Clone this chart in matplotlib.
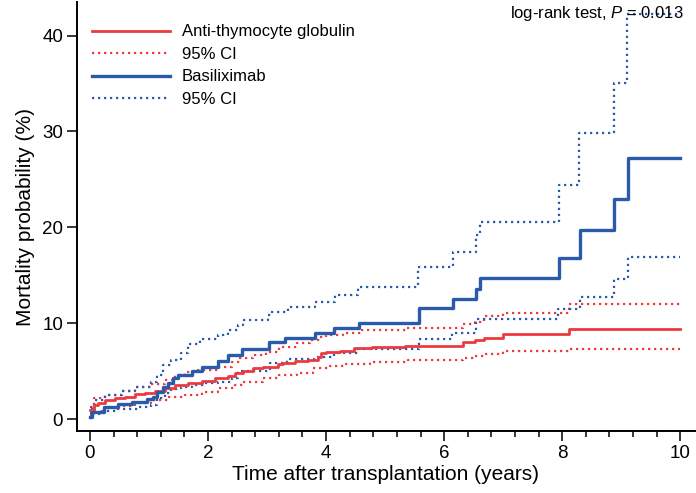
import matplotlib
matplotlib.use("Agg")
import matplotlib.pyplot as plt
from matplotlib.ticker import MultipleLocator

plt.rcParams['font.family'] = ['Liberation Sans', 'DejaVu Sans']
plt.rcParams['mathtext.fontset'] = 'custom'
plt.rcParams['mathtext.rm'] = 'Liberation Sans'
plt.rcParams['mathtext.it'] = 'Liberation Sans:italic'

# ---- data (years, mortality %) ----
atg_t = [0, 0.06, 0.14, 0.25, 0.42, 0.59, 0.76, 0.93, 1.10, 1.27, 1.44, 1.66, 1.89, 2.12, 2.34,
         2.45, 2.59, 2.76, 2.93, 3.19, 3.27, 3.47, 3.69, 3.86, 3.92, 4.00, 4.23, 4.48, 4.77,
         5.33, 6.32, 6.53, 6.67, 6.99, 8.12, 10]
atg_v = [0.95, 1.46, 1.64, 1.98, 2.16, 2.3, 2.58, 2.75, 2.96, 3.27, 3.55, 3.8, 4.0, 4.25, 4.45,
         4.77, 5.0, 5.3, 5.47, 5.74, 5.88, 6.0, 6.16, 6.5, 6.86, 7.03, 7.1, 7.38, 7.48,
         7.65, 8.0, 8.25, 8.49, 8.87, 9.39, 9.39]

atg_up_t = [0, 0.06, 0.25, 0.54, 0.76, 1.04, 1.27, 1.44, 1.61, 1.83, 2.17, 2.40, 2.54, 2.76,
            2.99, 3.21, 3.50, 3.72, 3.89, 4.00, 4.29, 4.60, 5.36, 6.32, 6.53, 6.67, 6.99, 8.12, 10]
atg_up_v = [1.28, 2.16, 2.5, 2.96, 3.3, 3.65, 4.07, 4.6, 4.94, 5.1, 5.46, 5.98, 6.33, 6.68,
            7.03, 7.55, 7.9, 8.25, 8.6, 8.77, 8.94, 9.29, 9.53, 9.9, 10.16, 10.7, 11.1, 11.97, 11.97]

atg_lo_t = [0, 0.03, 0.25, 0.48, 0.76, 1.04, 1.32, 1.61, 1.89, 2.17, 2.45, 2.59, 2.93, 3.21,
            3.50, 3.78, 4.06, 4.34, 4.74, 5.39, 6.32, 6.53, 6.67, 6.99, 8.12, 10]
atg_lo_v = [0.42, 0.76, 1.1, 1.36, 1.64, 1.98, 2.26, 2.5, 2.85, 3.2, 3.5, 3.9, 4.25, 4.6,
            4.84, 5.3, 5.53, 5.74, 5.98, 6.2, 6.33, 6.58, 6.78, 7.1, 7.3, 7.3]

bas_t = [0, 0.03, 0.23, 0.48, 0.71, 0.96, 1.07, 1.13, 1.24, 1.32, 1.41, 1.49, 1.72, 1.89, 2.17,
         2.34, 2.57, 3.03, 3.30, 3.82, 4.13, 4.55, 5.57, 6.15, 6.54, 6.61, 7.94, 8.30, 8.87, 9.11, 10]
bas_v = [0.24, 0.76, 1.28, 1.57, 1.81, 2.05, 2.33, 2.85, 3.31, 3.79, 4.25, 4.59, 5.04, 5.46, 6.0,
         6.7, 7.35, 8.07, 8.5, 9.0, 9.53, 10.05, 11.55, 12.5, 13.6, 14.7, 16.8, 19.7, 22.96, 27.2, 27.2]

bas_up_t = [0, 0.03, 0.085, 0.25, 0.54, 0.76, 1.04, 1.13, 1.24, 1.38, 1.55, 1.66, 1.86, 2.17,
            2.34, 2.51, 2.59, 3.02, 3.07, 3.35, 3.81, 4.15, 4.54, 5.56, 6.15, 6.54, 6.61, 7.94,
            8.29, 8.87, 9.10, 10]
bas_up_v = [0.6, 1.3, 2.0, 2.5, 2.96, 3.3, 3.9, 4.6, 5.64, 6.16, 6.86, 7.8, 8.3, 8.77,
            9.29, 9.8, 10.33, 10.86, 11.2, 11.7, 12.25, 12.94, 13.8, 15.9, 17.4, 19.2, 20.6, 24.4,
            29.8, 35.0, 42.3, 42.3]

bas_lo_t = [0, 0.03, 0.20, 0.48, 0.82, 1.04, 1.13, 1.27, 1.38, 1.55, 1.72, 1.95, 2.17, 2.40,
            2.50, 3.05, 3.33, 3.82, 4.13, 4.54, 5.58, 6.13, 6.54, 7.93, 8.30, 8.87, 9.11, 10]
bas_lo_v = [0.1, 0.5, 0.83, 1.04, 1.22, 1.46, 2.16, 2.68, 3.1, 3.38, 3.55, 3.72, 3.9, 4.3,
            5.0, 5.8, 6.23, 6.5, 6.86, 7.3, 8.3, 9.0, 10.4, 11.45, 12.77, 14.6, 16.9, 16.9]

labels = ["Anti-thymocyte globulin", "95% CI", "Basiliximab", "95% CI"]
x_ticks = [0, 2, 4, 6, 8, 10]
y_ticks = [0, 10, 20, 30, 40]

RED = "#EC3A3F"
BLUE = "#2A5BAA"
DOT = (0, (1.0, 1.7))

fig = plt.figure(figsize=(6.96, 4.93), dpi=100)
ax = fig.add_axes([77 / 696, 62 / 493, 618 / 696, 429 / 493])

ax.step(atg_t, atg_v, where='post', color=RED, lw=2.0, label=labels[0], zorder=4)
ax.step(atg_up_t, atg_up_v, where='post', color=RED, lw=1.6, ls=DOT, label=labels[1], zorder=3)
ax.step(atg_lo_t, atg_lo_v, where='post', color=RED, lw=1.6, ls=DOT, zorder=3)
ax.step(bas_t, bas_v, where='post', color=BLUE, lw=2.4, label=labels[2], zorder=4)
ax.step(bas_up_t, bas_up_v, where='post', color=BLUE, lw=1.6, ls=DOT, label=labels[3], zorder=3)
ax.step(bas_lo_t, bas_lo_v, where='post', color=BLUE, lw=1.6, ls=DOT, zorder=3)

ax.set_xlim(-0.22, 10.25)
ax.set_ylim(-1.25, 43.5)
ax.set_xticks(x_ticks)
ax.set_yticks(y_ticks)
ax.xaxis.set_minor_locator(MultipleLocator(0.4))
ax.tick_params(axis='both', which='major', direction='out', length=7, width=1.1,
               labelsize=13.5, pad=3)
ax.tick_params(axis='x', which='minor', direction='out', length=4, width=1.1)
for s in ['top', 'right']:
    ax.spines[s].set_visible(False)
for s in ['left', 'bottom']:
    ax.spines[s].set_linewidth(1.4)

ax.set_xlabel("Time after transplantation (years)", fontsize=15, labelpad=2)
ax.set_ylabel("Mortality probability (%)", fontsize=15, labelpad=5)

handles, labs = ax.get_legend_handles_labels()
leg = ax.legend(handles, labs, loc='upper left', bbox_to_anchor=(0.005, 0.975),
                frameon=False, fontsize=12, handlelength=4.7, handletextpad=0.72,
                labelspacing=0.45, borderaxespad=0.3)

ax.text(0.982, 0.995, r"log-rank test, $\it{P}$ = 0.013", transform=ax.transAxes,
        ha='right', va='top', fontsize=12, zorder=6)

fig.savefig("out.png", dpi=100)
